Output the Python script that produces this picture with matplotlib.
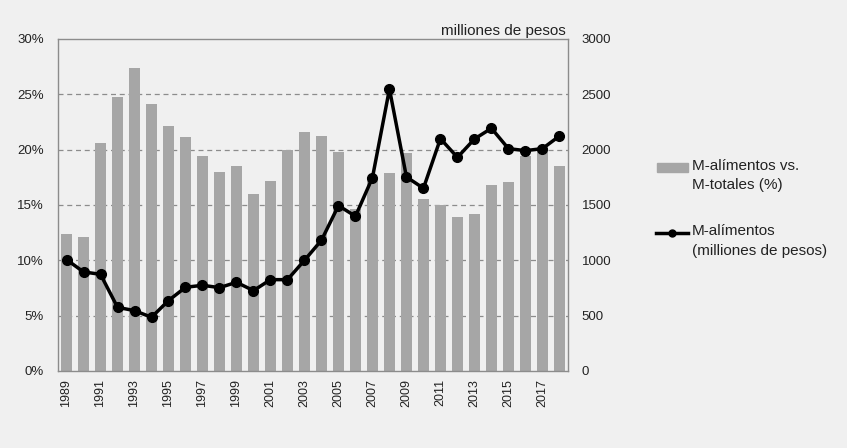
import numpy as np
import matplotlib.pyplot as plt
from matplotlib.lines import Line2D
from matplotlib.patches import Rectangle

plt.rcParams['font.family'] = ['Liberation Sans', 'DejaVu Sans']

years = list(range(1989, 2019))
share = [12.4, 12.1, 20.6, 24.8, 27.4, 24.1, 22.1, 21.1, 19.4, 18.0,
         18.5, 16.0, 17.2, 20.0, 21.6, 21.2, 19.8, 14.6, 17.4, 17.9,
         19.7, 15.5, 15.0, 13.9, 14.2, 16.8, 17.1, 19.4, 19.9, 18.5]
pesos = [1006, 895, 873, 575, 545, 485, 636, 756, 774, 753,
         801, 726, 825, 825, 1000, 1181, 1494, 1398, 1747, 2548,
         1753, 1651, 2099, 1930, 2096, 2193, 2009, 1991, 2009, 2123]
tick_years = [str(y) for y in years[::2]]
labels = ['M-alímentos vs.\nM-totales (%)', 'M-alímentos\n(milliones de pesos)']

bg = '#f0f0f0'
bar_col = '#a6a6a6'
frame = '#8c8c8c'
txt = '#222222'
W, H = 847, 448

fig = plt.figure(figsize=(W / 100, H / 100), dpi=100, facecolor=bg)
ax = fig.add_axes([0.0685, 0.172, 0.602, 0.741])
ax.set_facecolor(bg)
x = np.arange(len(years))
ax.bar(x, share, width=0.65, color=bar_col, zorder=2)
ax.set_xlim(-0.5, len(years) - 0.5)
ax.set_ylim(0, 30)
ax.set_yticks(range(0, 31, 5))
ax.set_yticklabels([f'{v}%' for v in range(0, 31, 5)])
for v in range(5, 30, 5):
    ax.axhline(v, color='#8c8c8c', lw=0.9, ls=(0, (4, 3)), zorder=1)
ax.set_xticks(x[::2])
ax.set_xticklabels(tick_years, rotation=90)
ax.tick_params(axis='x', length=0, labelsize=9, colors=txt, pad=6)
ax.tick_params(axis='y', length=0, labelsize=9.5, colors=txt, pad=10)
for s in ax.spines.values():
    s.set_color(frame)
    s.set_linewidth(1.0)

ax2 = ax.twinx()
ax2.plot(x, pesos, color='black', lw=2.5, marker='o', markersize=7, zorder=3)
ax2.set_ylim(0, 3000)
ax2.set_yticks(range(0, 3001, 500))
ax2.tick_params(axis='y', length=0, labelsize=9.5, colors=txt, pad=10)
for s in ax2.spines.values():
    s.set_visible(False)

ax.text(0.996, 1.003, 'milliones de pesos', transform=ax.transAxes,
        ha='right', va='bottom', fontsize=11, color=txt)

# legend drawn by hand so the keys line up with the first text line
fig.add_artist(Rectangle((657 / W, 1 - 172 / H), 31 / W, 9 / H,
                         transform=fig.transFigure, color=bar_col))
fig.text(692 / W, 1 - 159 / H, labels[0], ha='left', va='top', fontsize=11,
         color=txt, linespacing=1.5, transform=fig.transFigure)
fig.add_artist(Line2D([656 / W, 688 / W], [1 - 233 / H] * 2, color='black',
                      lw=2.5, transform=fig.transFigure))
fig.add_artist(Line2D([672 / W], [1 - 233 / H], color='black', marker='o',
                      markersize=5, transform=fig.transFigure))
fig.text(692 / W, 1 - 224 / H, labels[1], ha='left', va='top', fontsize=11,
         color=txt, linespacing=1.5, transform=fig.transFigure)

fig.savefig('out.png', dpi=100, facecolor=bg)
